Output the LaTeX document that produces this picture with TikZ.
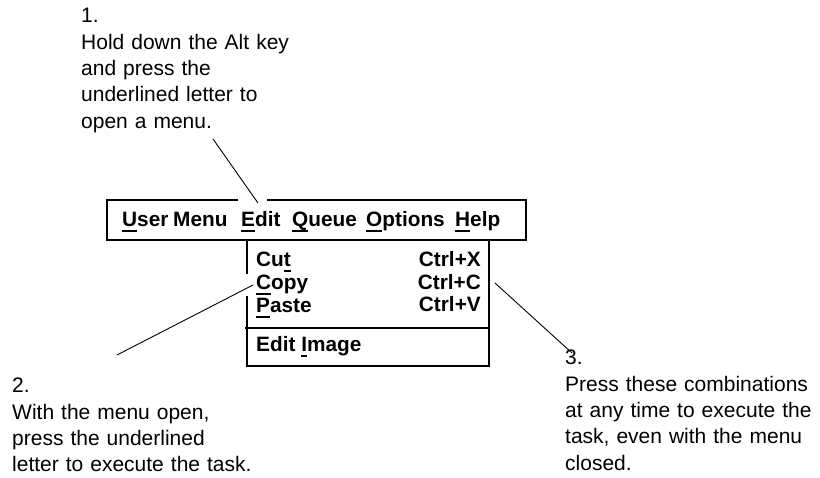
\documentclass[tikz,border=0pt]{standalone}
\usepackage{fontspec}
\setmainfont{Liberation Sans}
\newcommand\ulet[1]{\setbox0\hbox{#1}\rlap{\rule[-5pt]{\wd0}{2pt}}#1}
\begin{document}
\begin{tikzpicture}[x=1pt,y=-1pt,
  note/.style={anchor=base west,inner sep=0pt,text width=270pt,align=left,font=\fontsize{21}{26.3}\selectfont},
  menuword/.style={anchor=base west,inner sep=0pt,font=\fontsize{20.8}{24}\selectfont\bfseries},
  menuright/.style={anchor=base east,inner sep=0pt,font=\fontsize{20.8}{24}\selectfont\bfseries},
  frame/.style={line width=2pt},
  leader/.style={line width=0.9pt}]
\useasboundingbox (0,0) rectangle (820,478);
% annotations
\node[note] (n1) at (81,23) {1.\\Hold down the Alt key\\and press the\\underlined letter to\\open a menu.};
\node[note] (n2) at (12,393) {2.\\With the menu open,\\press the underlined\\letter to execute the task.};
\node[note] (n3) at (565,365) {3.\\Press these combinations\\at any time to execute the\\task, even with the menu\\closed.};
% menu bar
\draw[frame] (238,200) -- (107,200) -- (107,240) -- (526,240) -- (526,200) -- (267,200);
\node[menuword] (mUser) at (122,227) {\ulet{U}ser};
\node[menuword] (mMenu) at (173,227) {Menu};
\node[menuword] (mEdit) at (241,227) {\ulet{E}dit};
\node[menuword] (mQueue) at (292,227) {\ulet{Q}ueue};
\node[menuword] (mOptions) at (366,227) {\ulet{O}ptions};
\node[menuword] (mHelp) at (455,227) {\ulet{H}elp};
% submenu
\draw[frame] (247,240) -- (247,274);
\draw[frame] (247,296) -- (247,366) -- (489,366) -- (489,240);
\draw[frame] (245,328) -- (489,328);
\node[menuword] (sCut) at (256,267) {Cu\ulet{t}};
\node[menuword] (sCopy) at (256,290) {\ulet{C}opy};
\node[menuword] (sPaste) at (256,313) {\ulet{P}aste};
\node[menuright] (kX) at (481,267) {Ctrl+X};
\node[menuright] (kC) at (481,290) {Ctrl+C};
\node[menuright] (kV) at (481,312) {Ctrl+V};
\node[menuword] (sImage) at (256,352) {Edit \ulet{I}mage};
% leader lines
\coordinate (a1) at (213,139);
\coordinate (b1) at (258,203);
\coordinate (a2) at (117,355);
\coordinate (b2) at (253,285);
\coordinate (a3) at (572,353);
\coordinate (b3) at (495,283);
\draw[leader] (a1) -- (b1);
\draw[leader] (a2) -- (b2);
\draw[leader] (a3) -- (b3);
\end{tikzpicture}
\end{document}
